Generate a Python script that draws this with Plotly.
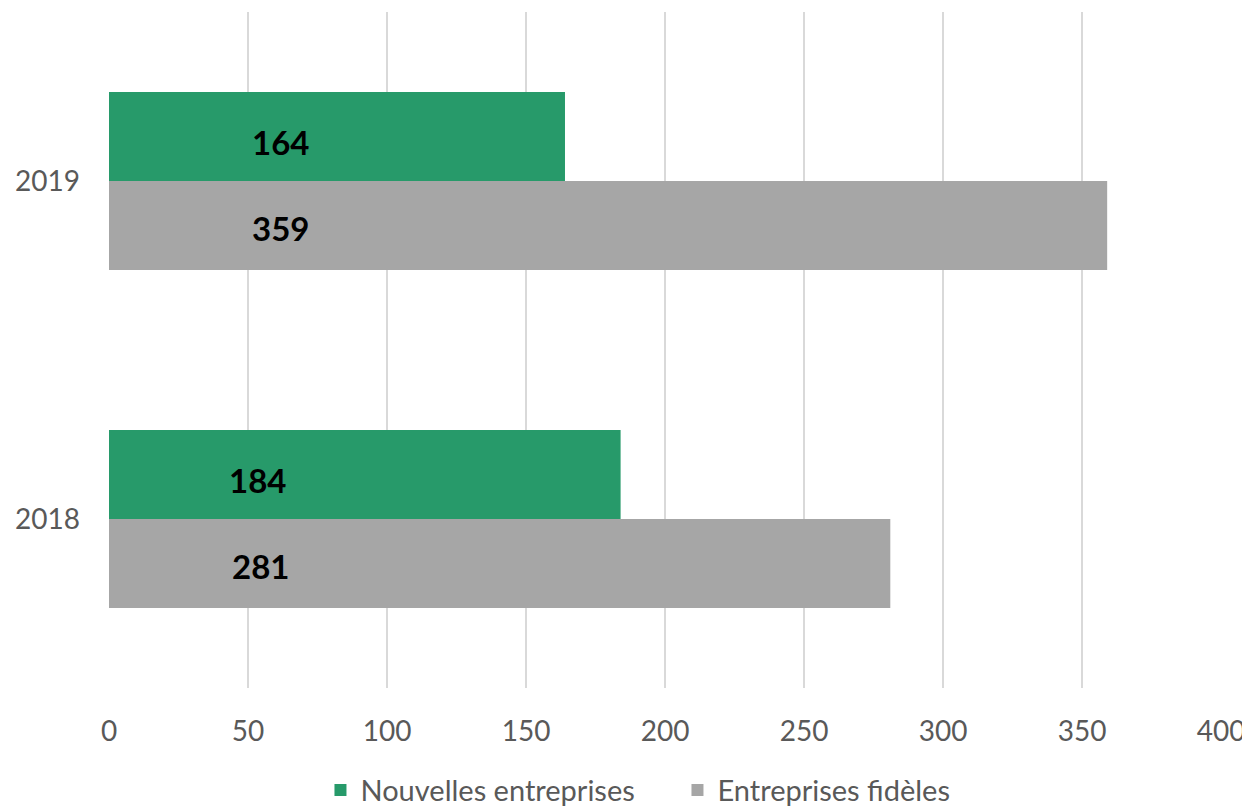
import plotly.graph_objects as go

years = ["2018", "2019"]
nouvelles = [184, 164]
fideles = [281, 359]
series_names = ["Nouvelles entreprises", "Entreprises fidèles"]
x_ticks = [0, 50, 100, 150, 200, 250, 300, 350, 400]

# label anchor positions (data units) as seen in reference
label_x_nouvelles = [53.5, 61.5]
label_x_fideles = [54.5, 61.5]

GREEN = "#279A6A"
GREY = "#A6A6A6"
FONT = "Lato"

fig = go.Figure()
fig.add_trace(go.Bar(y=years, x=fideles, name=series_names[1], orientation="h",
                     marker=dict(color=GREY, line=dict(width=0))))
fig.add_trace(go.Bar(y=years, x=nouvelles, name=series_names[0], orientation="h",
                     marker=dict(color=GREEN, line=dict(width=0))))

for i, y in enumerate(years):
    fig.add_annotation(x=label_x_nouvelles[i], y=i, yshift=39, text=f"<b>{nouvelles[i]}</b>",
                       showarrow=False, font=dict(family=FONT, size=33, color="black"))
    fig.add_annotation(x=label_x_fideles[i], y=i, yshift=-47, text=f"<b>{fideles[i]}</b>",
                       showarrow=False, font=dict(family=FONT, size=33, color="black"))

fig.update_layout(
    width=1242, height=799,
    margin=dict(l=101, r=28, t=4, b=119, autoexpand=False),
    barmode="group", bargap=0.473, bargroupgap=0,
    plot_bgcolor="white", paper_bgcolor="white",
    font=dict(family=FONT, size=28, color="#595959"),
    legend=dict(orientation="h", traceorder="reversed", x=0.19, xanchor="left",
                y=-0.151, yanchor="middle", font=dict(size=29, color="#595959"),
                itemwidth=30, entrywidth=312, entrywidthmode="pixels"),
    showlegend=True,
)
fig.update_xaxes(range=[0, 400.3], autorange=False, tickvals=x_ticks, showgrid=True,
                 gridcolor="#D9D9D9", gridwidth=2, zeroline=False, showline=False,
                 ticks="", ticklabelstandoff=24, automargin=False,
                 ticklabeloverflow="allow")
fig.update_yaxes(type="category", categoryorder="array", categoryarray=years,
                 range=[-0.5, 1.5], autorange=False,
                 showgrid=False, zeroline=False, showline=False, ticks="",
                 ticklabelstandoff=28, automargin=False)

fig.write_html("out.html")
